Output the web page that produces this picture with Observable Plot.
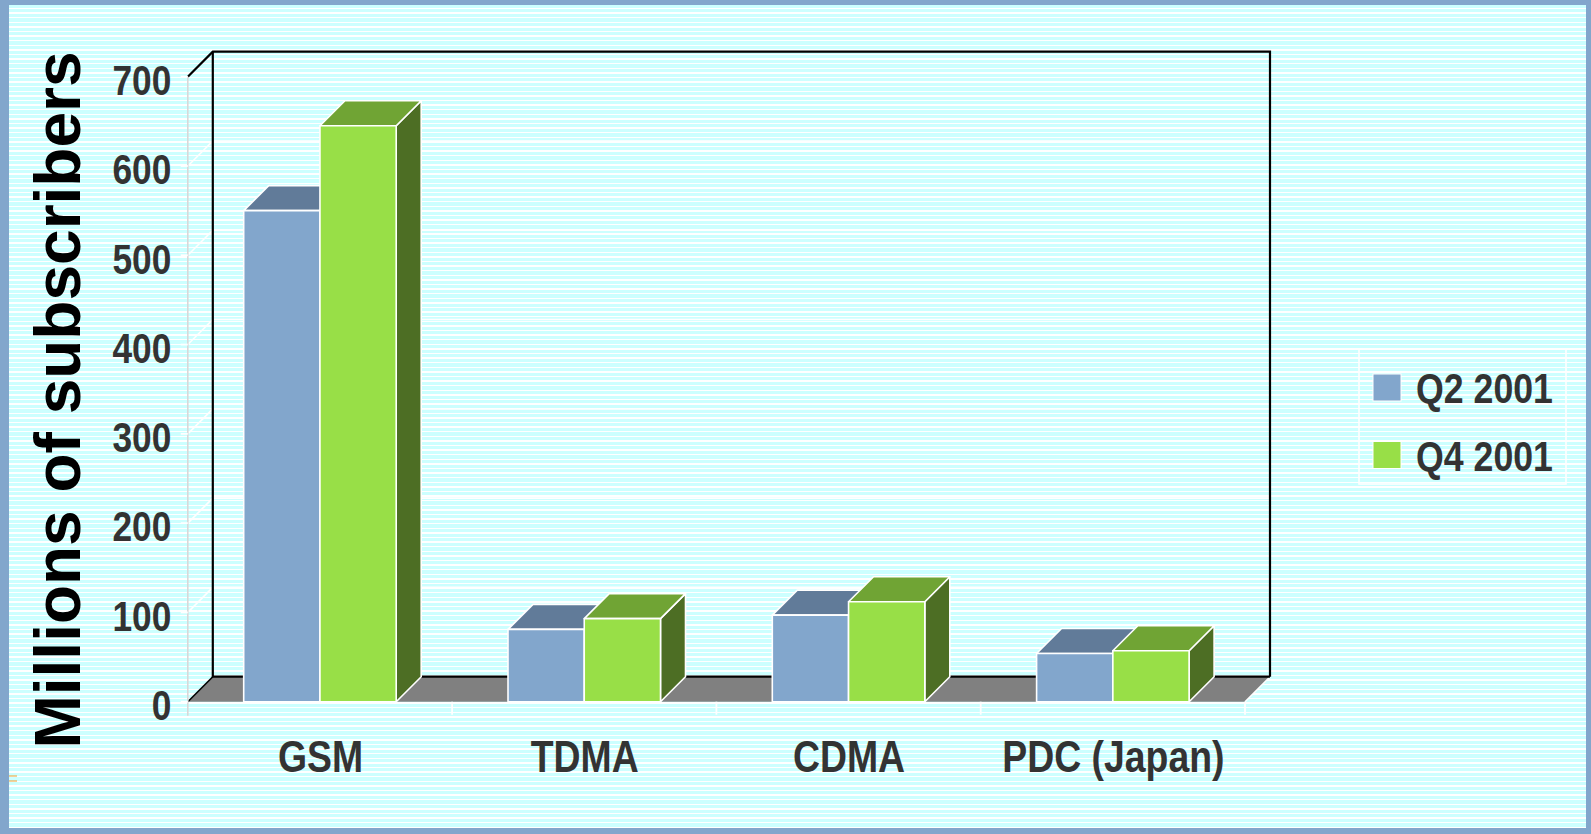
<!DOCTYPE html>
<html><head><meta charset="utf-8">
<script src="https://cdn.jsdelivr.net/npm/d3@7"></script>
<script src="https://cdn.jsdelivr.net/npm/@observablehq/plot@0.6"></script>
<style>
html,body{margin:0;padding:0;background:#ccffff;}
#wrap{position:relative;width:1591px;height:834px;overflow:hidden;
 background: repeating-linear-gradient(to bottom, #ccffff 0px, #ccffff 3.3px, #ffffff 3.3px, #ffffff 4.6px);}
#frame{position:absolute;left:0;top:0;width:1591px;height:834px;box-sizing:border-box;border-style:solid;border-color:#82a6cc;border-width:5px 5px 6px 9px;pointer-events:none;}
svg{display:block;}
</style>
</head><body><div id="wrap"></div>
<script>
const categories = ["GSM", "TDMA", "CDMA", "PDC (Japan)"];
const series = ["Q2 2001", "Q4 2001"];
const q2 = [550, 81, 97, 54];
const q4 = [645, 93, 112, 57];
const yTicks = [0, 100, 200, 300, 400, 500, 600, 700];
const yTitle = "Millions of subscribers";

const frontColors = ["#82a6cc", "#98df47"];
const topColors = ["#617b99", "#70a434"];
const sideColors = ["#4f6a8a", "#4d6e24"];
const labelFont = "'Liberation Sans', Arial, sans-serif";

const rows = categories.flatMap((c, i) => [
  {category: c, series: series[0], value: q2[i]},
  {category: c, series: series[1], value: q4[i]}
]);

const D = 25; // 3D depth offset in px

function scene(index, scales) {
  const x = scales.x, y = scales.y, color = scales.color;
  const g = d3.create("svg:g");
  const bw = x(categories[1]) - x(categories[0]);
  const xL = x(categories[0]);
  const xR = x(categories[categories.length - 1]) + bw;
  const y0 = y(0), yTop = y(yTicks[yTicks.length - 1]);

  // back wall gridlines (with diagonal from front axis)
  for (const t of yTicks.slice(1, -1)) {
    const yy = y(t);
    g.append("path").attr("d", `M${xL},${yy}L${xL + D},${yy - D}H${xR + D}`)
      .attr("fill", "none").attr("stroke", "#fff").attr("stroke-width", 1.6);
  }
  // floor
  g.append("path").attr("d", `M${xL},${y0}H${xR}L${xR + D},${y0 - D}H${xL + D}Z`)
    .attr("fill", "#808080").attr("stroke", "none");
  g.append("path").attr("d", `M${xR},${y0}L${xR + D},${y0 - D}`)
    .attr("fill", "none").attr("stroke", "#fff").attr("stroke-width", 1.5);
  // back wall outline
  g.append("path").attr("d", `M${xL},${yTop}L${xL + D},${yTop - D}H${xR + D}V${y0 - D}`)
    .attr("fill", "none").attr("stroke", "#000").attr("stroke-width", 2.2);
  g.append("path").attr("d", `M${xL + D},${yTop - D}V${y0 - D}H${xR + D}`)
    .attr("fill", "none").attr("stroke", "#000").attr("stroke-width", 2.2);
  g.append("path").attr("d", `M${xL},${y0}L${xL + D},${y0 - D}`)
    .attr("fill", "none").attr("stroke", "#000").attr("stroke-width", 1.6);

  // front axis line and ticks
  g.append("path").attr("d", `M${xL},${yTop}V${y0 + 14}`)
    .attr("fill", "none").attr("stroke", "#d8d8d8").attr("stroke-width", 1.6);
  for (const t of yTicks) {
    g.append("path").attr("d", `M${xL - 7},${y(t)}H${xL}`)
      .attr("stroke", "#fff").attr("stroke-width", 1.8);
  }
  for (let i = 1; i <= categories.length; i++) {
    const xx = xL + i * bw;
    g.append("path").attr("d", `M${xx},${y0}V${y0 + 13}`)
      .attr("stroke", "#fff").attr("stroke-width", 1.8);
  }

  // bars
  const barW = bw * 0.2885;
  for (const r of rows) {
    const s = series.indexOf(r.series);
    const x0 = x(r.category) + bw / 2 - barW + s * barW;
    const x1 = x0 + barW;
    const yv = y(r.value);
    const st = (sel) => sel.attr("stroke", "#fff").attr("stroke-width", 1.6).attr("stroke-linejoin", "round");
    st(g.append("path").attr("d", `M${x1},${yv}L${x1 + D},${yv - D}V${y0 - D}L${x1},${y0}Z`).attr("fill", sideColors[s]));
    st(g.append("path").attr("d", `M${x0},${yv}L${x0 + D},${yv - D}H${x1 + D}L${x1},${yv}Z`).attr("fill", topColors[s]));
    st(g.append("path").attr("d", `M${x0},${yv}H${x1}V${y0}H${x0}Z`).attr("fill", color(r.series)));
  }

  // y title
  g.append("text").attr("transform", "translate(80,400) rotate(-90)")
    .attr("text-anchor", "middle").attr("fill", "#000")
    .attr("font-family", "'Liberation Sans', Arial, sans-serif").attr("font-weight", "bold")
    .attr("font-size", 64).text(yTitle);

  // legend
  g.append("rect").attr("x", 1359).attr("y", 349).attr("width", 207).attr("height", 135)
    .attr("fill", "none").attr("stroke", "#fff").attr("stroke-width", 1.6);
  series.forEach((name, i) => {
    const ly = 374 + i * 67.5;
    g.append("rect").attr("x", 1373).attr("y", ly).attr("width", 28).attr("height", 27)
      .attr("fill", color(name)).attr("stroke", "#fff").attr("stroke-width", 1);
    g.append("text").attr("class", "narrow").attr("x", 1416).attr("y", ly + 29)
      .attr("text-anchor", "start")
      .attr("fill", "#333").attr("font-family", labelFont).attr("font-weight", "bold")
      .attr("font-size", 42).text(name);
  });

  // small orange mark at left edge
  g.append("path").attr("d", "M0,778H6M9,776H17M9,781H17").attr("stroke", "#f0a030").attr("stroke-width", 1.2);
  return g.node();
}

const chart = Plot.plot({
  width: 1591,
  height: 834,
  marginTop: 76.7,
  marginBottom: 834 - 701.7,
  marginLeft: 187.8,
  marginRight: 346,
  style: {background: "transparent", overflow: "visible"},
  x: {type: "band", domain: categories, padding: 0, round: false, label: null},
  y: {domain: [0, 700], label: null},
  color: {type: "ordinal", domain: series, range: frontColors},
  marks: [
    scene,
    Plot.axisY({ticks: yTicks, tickSize: 0, tickPadding: 17, dy: 4, fontSize: 43, fontWeight: "bold",
      fontFamily: labelFont, color: "#333", label: null}),
    Plot.axisX({tickSize: 0, tickPadding: 38.3, fontSize: 44.5, fontWeight: "bold",
      fontFamily: labelFont, color: "#333", label: null})
  ]
});

const wrap = document.getElementById("wrap");
wrap.appendChild(chart);
const frame = document.createElement("div");
frame.id = "frame";
wrap.appendChild(frame);

// condense label text horizontally (narrow typeface look)
function condense(selector, k) {
  d3.select(chart).selectAll(selector).each(function () {
    const w = this.getComputedTextLength();
    this.setAttribute("textLength", w * k);
    this.setAttribute("lengthAdjust", "spacingAndGlyphs");
  });
}
condense("g[aria-label='y-axis tick label'] text", 0.82);
condense("g[aria-label='x-axis tick label'] text", 0.84);
condense("text.narrow", 0.85);
</script>
</body></html>
